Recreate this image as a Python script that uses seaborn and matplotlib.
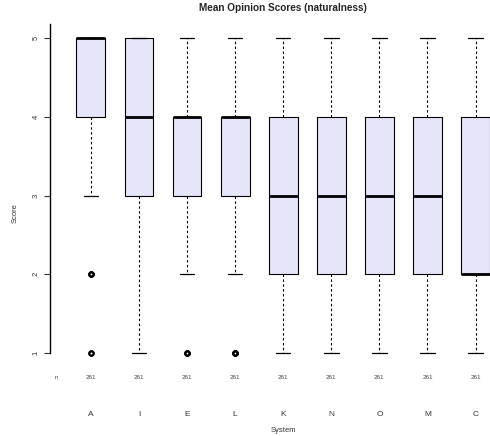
import numpy as np
import pandas as pd
import seaborn as sns
import matplotlib.pyplot as plt

# systems in plotted order
systems = ['A', 'I', 'E', 'L', 'K', 'N', 'O', 'M', 'C']
scores = [1, 2, 3, 4, 5]

# number of ratings per score (1..5) for each system, 261 ratings each
counts_A = [2, 3, 20, 90, 146]
counts_I = [10, 25, 50, 80, 96]
counts_E = [3, 20, 60, 120, 58]
counts_L = [4, 22, 55, 125, 55]
counts_K = [20, 55, 70, 70, 46]
counts_N = [18, 58, 68, 72, 45]
counts_O = [22, 52, 72, 70, 45]
counts_M = [20, 56, 66, 74, 45]
counts_C = [30, 110, 50, 40, 31]

all_counts = [counts_A, counts_I, counts_E, counts_L, counts_K,
              counts_N, counts_O, counts_M, counts_C]

rows = []
for name, cnt in zip(systems, all_counts):
    for s, c in zip(scores, cnt):
        rows += [(name, s)] * c
data = pd.DataFrame(rows, columns=['System', 'Score'])

sns.set_style('white')
plt.rcParams['font.family'] = ['Liberation Sans', 'DejaVu Sans']

fig = plt.figure(figsize=(4.9, 4.36), dpi=100)
ax = fig.add_axes([50 / 490, (436 - 365.6) / 436, 440 / 490, 341.6 / 436])

sns.boxplot(data=data, x='System', y='Score', order=systems, ax=ax,
            color='#E6E6FA', saturation=1, width=0.6, whis=1.5,
            linecolor='black', linewidth=0.8,
            whiskerprops=dict(linestyle=(0, (2.2, 2.2)), linewidth=0.8),
            capprops=dict(linewidth=0.9),
            medianprops=dict(linewidth=2.0, color='black'),
            flierprops=dict(marker='o', markerfacecolor='none',
                            markeredgecolor='black', markersize=3.2,
                            markeredgewidth=1.4))

ax.set_xlim(-0.85, 8.3)
ax.set_ylim(0.84, 5.18)

for side in ['top', 'right', 'bottom']:
    ax.spines[side].set_visible(False)
ax.spines['left'].set_bounds(1, 5.18)
ax.spines['left'].set_color('black')
ax.spines['left'].set_linewidth(1.0)

ax.set_yticks(scores)
ax.set_yticklabels([str(s) for s in scores], rotation=90, va='center',
                   fontsize=5.5, color='#333333')
ax.tick_params(axis='y', left=True, length=4.3, width=0.8, pad=3,
               color='#333333')
ax.tick_params(axis='x', bottom=False, pad=29, labelsize=6,
               labelcolor='#333333')
ax.set_xlabel('')
ax.set_ylabel('')

# sample counts row
n_per_system = [sum(c) for c in all_counts]
ax.text(-0.71, 0.695, 'n', fontsize=4.5, color='#444444',
        ha='center', va='center')
for i, n in enumerate(n_per_system):
    ax.text(i, 0.695, str(n), fontsize=4.5, color='#444444',
            ha='center', va='center')

fig.text(283 / 490, 1 - 8 / 436, 'Mean Opinion Scores (naturalness)',
         fontsize=7.2, fontweight='bold', ha='center', va='center')
fig.text(283 / 490, 1 - 430 / 436, 'System', fontsize=5.5,
         color='#333333', ha='center', va='center')
fig.text(15 / 490, 1 - 213 / 436, 'Score', fontsize=5.5, rotation=90,
         color='#333333', ha='center', va='center')

fig.savefig('out.png', dpi=100)
